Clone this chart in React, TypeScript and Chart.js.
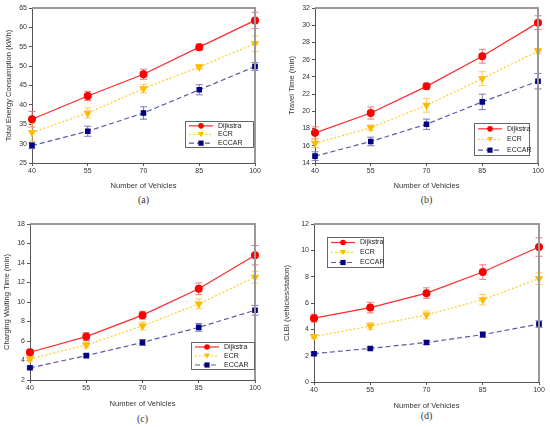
import React, { useEffect, useRef } from 'react';
import { Chart, ChartConfiguration, Plugin, registerables } from 'chart.js';

Chart.register(...registerables);

const vehicles = ['40', '55', '70', '85', '100'];
const seriesNames = ['Dijkstra', 'ECR', 'ECCAR'];

// (a) total energy consumption
const energyDijkstra = [36.3, 42.3, 47.9, 54.9, 61.8];
const energyEcr = [32.9, 37.9, 44.2, 49.8, 55.8];
const energyEccar = [29.5, 33.2, 37.9, 43.9, 49.9];
const energyDijkstraErr = [2.0, 1.2, 1.3, 0.8, 2.1];
const energyEcrErr = [2.3, 1.3, 1.1, 0.6, 2.0];
const energyEccarErr = [0.8, 1.3, 1.6, 1.3, 1.0];

// (b) travel time
const travelDijkstra = [17.5, 19.8, 22.9, 26.4, 30.3];
const travelEcr = [16.3, 18.1, 20.7, 23.8, 27.0];
const travelEccar = [14.8, 16.5, 18.5, 21.1, 23.5];
const travelDijkstraErr = [0.7, 0.7, 0.35, 0.8, 0.8];
const travelEcrErr = [0.5, 0.3, 0.8, 0.8, 0.3];
const travelEccarErr = [0.5, 0.5, 0.6, 0.9, 0.9];

// (c) charging waiting time
const waitDijkstra = [4.85, 6.45, 8.65, 11.35, 14.8];
const waitEcr = [4.15, 5.6, 7.55, 9.8, 12.55];
const waitEccar = [3.25, 4.5, 5.85, 7.4, 9.15];
const waitDijkstraErr = [0.3, 0.4, 0.4, 0.6, 1.0];
const waitEcrErr = [0.2, 0.3, 0.4, 0.5, 0.6];
const waitEccarErr = [0.1, 0.15, 0.3, 0.4, 0.5];

// (d) CLBI
const clbiDijkstra = [4.85, 5.65, 6.75, 8.35, 10.25];
const clbiEcr = [3.45, 4.25, 5.1, 6.25, 7.85];
const clbiEccar = [2.15, 2.55, 3.0, 3.6, 4.4];
const clbiDijkstraErr = [0.3, 0.4, 0.4, 0.55, 0.7];
const clbiEcrErr = [0.15, 0.25, 0.3, 0.4, 0.45];
const clbiEccarErr = [0.1, 0.1, 0.15, 0.2, 0.25];

const lineColors = ['#ff2a2a', '#ffcc22', '#5a5aa8'];
const markerColors = ['#ff0000', '#ffbb00', '#000080'];
const errorColors = ['#f07878', '#ffc860', '#7878b8'];
const dashes = [[], [2, 2], [5, 3]];
const pointStyles = ['circle', 'triangle', 'rect'];
const pointRotations = [0, 180, 0];
const pointRadii = [3.4, 3.7, 3.1];

const FONT = "'Liberation Sans', Arial, sans-serif";

const errorBarPlugin: Plugin = {
  id: 'errorBars',
  beforeDatasetsDraw(chart, _args, opts: any) {
    const { ctx } = chart;
    const xs = chart.scales.x;
    const ys = chart.scales.y;
    ctx.save();
    ctx.lineWidth = 1;
    chart.data.datasets.forEach((ds, i) => {
      const errs: number[] = opts.errors[i];
      ctx.strokeStyle = errorColors[i];
      (ds.data as number[]).forEach((v, j) => {
        const x = xs.getPixelForValue(j);
        const y1 = ys.getPixelForValue(v + errs[j]);
        const y2 = ys.getPixelForValue(v - errs[j]);
        ctx.beginPath();
        ctx.moveTo(x, y1);
        ctx.lineTo(x, y2);
        ctx.moveTo(x - 3.5, y1);
        ctx.lineTo(x + 3.5, y1);
        ctx.moveTo(x - 3.5, y2);
        ctx.lineTo(x + 3.5, y2);
        ctx.stroke();
      });
    });
    ctx.restore();
  },
};

const framePlugin: Plugin = {
  id: 'frame',
  afterDraw(chart) {
    const { ctx, chartArea: a } = chart;
    ctx.save();
    ctx.strokeStyle = '#999999';
    ctx.lineWidth = 2;
    ctx.beginPath();
    ctx.moveTo(a.left, a.top);
    ctx.lineTo(a.right, a.top);
    ctx.lineTo(a.right, a.bottom);
    ctx.stroke();
    ctx.restore();
  },
};

const boxLegendPlugin: Plugin = {
  id: 'boxLegend',
  afterDraw(chart, _args, opts: any) {
    const { ctx } = chart;
    const { x, y, w, h } = opts;
    ctx.save();
    ctx.fillStyle = '#ffffff';
    ctx.fillRect(x, y, w, h);
    ctx.strokeStyle = '#666666';
    ctx.lineWidth = 1;
    ctx.strokeRect(x + 0.5, y + 0.5, w, h);
    const row = h / 3;
    ctx.font = `7px ${FONT}`;
    ctx.textBaseline = 'middle';
    seriesNames.forEach((name, i) => {
      const cy = y + row * (i + 0.5) + 0.5;
      ctx.strokeStyle = lineColors[i];
      ctx.setLineDash(dashes[i]);
      ctx.lineWidth = 1.2;
      ctx.beginPath();
      ctx.moveTo(x + 4, cy);
      ctx.lineTo(x + 28, cy);
      ctx.stroke();
      ctx.setLineDash([]);
      ctx.fillStyle = markerColors[i];
      const mx = x + 16;
      ctx.beginPath();
      if (i === 0) {
        ctx.arc(mx, cy, 2.8, 0, Math.PI * 2);
      } else if (i === 1) {
        ctx.moveTo(mx - 3, cy - 2.5);
        ctx.lineTo(mx + 3, cy - 2.5);
        ctx.lineTo(mx, cy + 2.8);
        ctx.closePath();
      } else {
        ctx.rect(mx - 2.6, cy - 2.6, 5.2, 5.2);
      }
      ctx.fill();
      ctx.fillStyle = '#222222';
      ctx.fillText(name, x + 33, cy);
    });
    ctx.restore();
  },
};

interface PanelProps {
  left: number;
  top: number;
  width: number;
  height: number;
  pad: { top: number; right: number };
  yWidth: number;
  xHeight: number;
  yTitlePad: number;
  yTitle: string;
  yMin: number;
  yMax: number;
  yStep: number;
  series: number[][];
  errors: number[][];
  legend: { x: number; y: number; w: number; h: number };
  caption: string;
  captionTop: number;
}

const Panel: React.FC<PanelProps> = (p) => {
  const canvasRef = useRef<HTMLCanvasElement | null>(null);

  useEffect(() => {
    if (!canvasRef.current) return;
    const config: ChartConfiguration<'line'> = {
      type: 'line',
      data: {
        labels: vehicles,
        datasets: p.series.map((values, i) => ({
          label: seriesNames[i],
          data: values,
          borderColor: lineColors[i],
          borderWidth: 1.2,
          borderDash: dashes[i],
          backgroundColor: markerColors[i],
          pointBackgroundColor: markerColors[i],
          pointBorderColor: markerColors[i],
          pointStyle: pointStyles[i] as any,
          pointRotation: pointRotations[i],
          pointRadius: pointRadii[i],
          tension: 0,
          fill: false,
        })),
      },
      options: {
        animation: false,
        responsive: true,
        maintainAspectRatio: false,
        layout: { padding: { top: p.pad.top, right: p.pad.right, left: 0, bottom: 0 } },
        scales: {
          x: {
            type: 'category',
            offset: false,
            grid: { drawOnChartArea: false, drawTicks: true, tickLength: 3, color: '#555555' },
            border: { color: '#555555', width: 1 },
            ticks: { color: '#333333', font: { family: FONT, size: 7 }, padding: 1, maxRotation: 0 },
            title: {
              display: true,
              text: 'Number of Vehicles',
              color: '#333333',
              font: { family: FONT, size: 7.6 },
              padding: { top: 0, bottom: 0 },
            },
            afterFit: (scale) => {
              scale.height = p.xHeight;
            },
          },
          y: {
            min: p.yMin,
            max: p.yMax,
            grid: { drawOnChartArea: false, drawTicks: true, tickLength: 3, color: '#555555' },
            border: { color: '#555555', width: 1 },
            ticks: { stepSize: p.yStep, color: '#333333', font: { family: FONT, size: 7 }, padding: 2 },
            title: {
              display: true,
              text: p.yTitle,
              color: '#333333',
              font: { family: FONT, size: 7.6 },
              padding: { top: p.yTitlePad, bottom: 0 },
            },
            afterFit: (scale) => {
              scale.width = p.yWidth;
            },
          },
        },
        plugins: {
          legend: { display: false },
          tooltip: { enabled: false },
          errorBars: { errors: p.errors },
          boxLegend: p.legend,
        } as any,
      },
      plugins: [errorBarPlugin, framePlugin, boxLegendPlugin],
    };
    const chart = new Chart(canvasRef.current, config);
    return () => chart.destroy();
  }, []);

  const plotLeft = p.yWidth;
  const plotRight = p.width - p.pad.right;
  return (
    <>
      <div style={{ position: 'absolute', left: p.left, top: p.top, width: p.width, height: p.height }}>
        <canvas ref={canvasRef} />
      </div>
      <div
        style={{
          position: 'absolute',
          left: p.left + plotLeft,
          width: plotRight - plotLeft,
          top: p.captionTop,
          textAlign: 'center',
          fontFamily: "'Liberation Serif', 'Times New Roman', serif",
          fontSize: 10,
          lineHeight: '12px',
          color: '#333333',
        }}
      >
        {p.caption}
      </div>
    </>
  );
};

export default function App() {
  return (
    <div style={{ position: 'absolute', left: 0, top: 0, width: 550, height: 427, background: '#ffffff' }}>
      <Panel
        left={0}
        top={0}
        width={275}
        height={190}
        pad={{ top: 8, right: 20 }}
        yWidth={32}
        xHeight={27}
        yTitlePad={4}
        yTitle="Total Energy Consumption (kWh)"
        yMin={25}
        yMax={65}
        yStep={5}
        series={[energyDijkstra, energyEcr, energyEccar]}
        errors={[energyDijkstraErr, energyEcrErr, energyEccarErr]}
        legend={{ x: 185, y: 121, w: 68, h: 26 }}
        caption="(a)"
        captionTop={194}
      />
      <Panel
        left={275}
        top={0}
        width={275}
        height={190}
        pad={{ top: 8, right: 12 }}
        yWidth={40}
        xHeight={27}
        yTitlePad={12}
        yTitle="Travel Time (min)"
        yMin={14}
        yMax={32}
        yStep={2}
        series={[travelDijkstra, travelEcr, travelEccar]}
        errors={[travelDijkstraErr, travelEcrErr, travelEccarErr]}
        legend={{ x: 199, y: 123, w: 55, h: 32 }}
        caption="(b)"
        captionTop={194}
      />
      <Panel
        left={0}
        top={212}
        width={275}
        height={196}
        pad={{ top: 12, right: 20 }}
        yWidth={30}
        xHeight={28}
        yTitlePad={2}
        yTitle="Charging Waiting Time (min)"
        yMin={2}
        yMax={18}
        yStep={2}
        series={[waitDijkstra, waitEcr, waitEccar]}
        errors={[waitDijkstraErr, waitEcrErr, waitEccarErr]}
        legend={{ x: 191, y: 130, w: 63, h: 27 }}
        caption="(c)"
        captionTop={413}
      />
      <Panel
        left={275}
        top={212}
        width={275}
        height={198}
        pad={{ top: 12, right: 11 }}
        yWidth={39}
        xHeight={28}
        yTitlePad={7}
        yTitle="CLBI (vehicles/station)"
        yMin={0}
        yMax={12}
        yStep={2}
        series={[clbiDijkstra, clbiEcr, clbiEccar]}
        errors={[clbiDijkstraErr, clbiEcrErr, clbiEccarErr]}
        legend={{ x: 52, y: 25, w: 56, h: 30 }}
        caption="(d)"
        captionTop={410}
      />
    </div>
  );
}
